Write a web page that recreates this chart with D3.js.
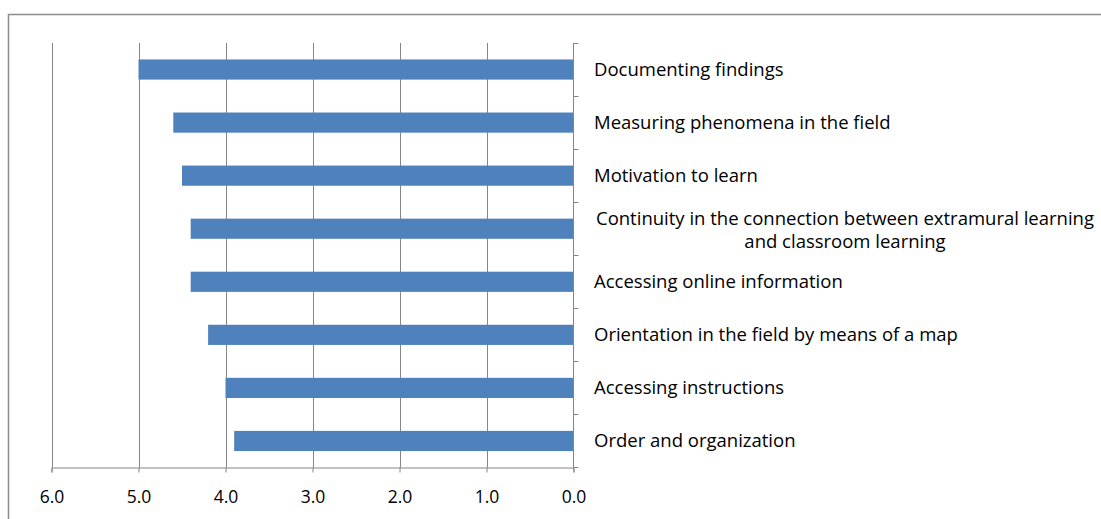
<!DOCTYPE html>
<meta charset="utf-8">
<style>
body { margin: 0; background: #fff; }
.grid line { stroke: #868686; stroke-width: 1px; }
.bar { fill: #4f81bd; }
.axis path, .axis line { stroke: #868686; stroke-width: 1px; }
.axis text { font-family: "Open Sans", sans-serif; font-size: 17.5px; fill: #000; }
.label { font-family: "Open Sans", sans-serif; font-size: 18.5px; fill: #000; }
</style>
<body>
<script src="https://cdnjs.cloudflare.com/ajax/libs/d3/7.8.5/d3.min.js"></script>
<script>
var categories = [
  "Documenting findings",
  "Measuring phenomena in the field",
  "Motivation to learn",
  "Continuity in the connection between extramural learning|and classroom learning",
  "Accessing online information",
  "Orientation in the field by means of a map",
  "Accessing instructions",
  "Order and organization"
];
var values = [5.0, 4.6, 4.5, 4.4, 4.4, 4.2, 4.0, 3.9];
var tickValues = [6, 5, 4, 3, 2, 1, 0];

var width = 1101, height = 519;
var plotLeft = 51.5, plotRight = 573.5, plotTop = 43, plotBottom = 467.5;

var svg = d3.select("body").append("svg")
  .attr("width", width)
  .attr("height", height);

// outer frame (runs off the right and bottom edges)
svg.append("rect")
  .attr("x", 8.5).attr("y", 14.5)
  .attr("width", 1200).attr("height", 600)
  .attr("fill", "none")
  .attr("stroke", "#8c8c8c")
  .attr("stroke-width", 1.5);

var x = d3.scaleLinear().domain([6, 0]).range([plotLeft, plotRight]);
var y = d3.scaleBand().domain(d3.range(categories.length)).range([plotTop, plotBottom]).paddingInner(0.62).paddingOuter(0.31);
var yb = d3.scaleBand().domain(d3.range(categories.length)).range([plotTop, plotBottom]);

svg.append("g").attr("class", "grid")
  .selectAll("line").data(tickValues.filter(function(d) { return d > 0; }))
  .enter().append("line")
  .attr("x1", function(d) { return Math.round(x(d)) + 0.5; })
  .attr("x2", function(d) { return Math.round(x(d)) + 0.5; })
  .attr("y1", plotTop).attr("y2", plotBottom);

svg.append("g")
  .selectAll("rect").data(values)
  .enter().append("rect")
  .attr("class", "bar")
  .attr("x", function(d) { return x(d); })
  .attr("width", function(d) { return x(0) - x(d); })
  .attr("y", function(d, i) { return y(i); })
  .attr("height", y.bandwidth());

// bottom axis
var xAxis = d3.axisBottom(x).tickValues(tickValues).tickFormat(d3.format(".1f")).tickSizeOuter(0).tickSize(5).tickPadding(18);
svg.append("g").attr("class", "axis")
  .attr("transform", "translate(0," + plotBottom + ")")
  .call(xAxis);

// right category axis (ticks between bands)
var ra = svg.append("g").attr("class", "axis");
ra.append("line")
  .attr("x1", plotRight).attr("x2", plotRight)
  .attr("y1", plotTop).attr("y2", plotBottom);
ra.selectAll(".tk").data(d3.range(categories.length))
  .enter().append("line")
  .attr("x1", plotRight).attr("x2", plotRight + 5)
  .attr("y1", function(d) { return Math.round(yb(d)) + 0.5; })
  .attr("y2", function(d) { return Math.round(yb(d)) + 0.5; });
ra.append("line")
  .attr("x1", plotRight).attr("x2", plotRight + 5)
  .attr("y1", plotBottom).attr("y2", plotBottom);

// category labels
categories.forEach(function(c, i) {
  var lines = c.split("|");
  var cy = y(i) + y.bandwidth() / 2;
  if (lines.length === 1) {
    svg.append("text").attr("class", "label")
      .attr("x", 594).attr("y", cy).attr("dy", "0.35em")
      .text(lines[0]);
  } else {
    var t = svg.append("text").attr("class", "label")
      .attr("text-anchor", "middle");
    t.append("tspan").attr("x", 845).attr("y", cy - 10).attr("dy", "0.35em").text(lines[0]);
    t.append("tspan").attr("x", 845).attr("y", cy + 13).attr("dy", "0.35em").text(lines[1]);
  }
});
</script>
</body>
